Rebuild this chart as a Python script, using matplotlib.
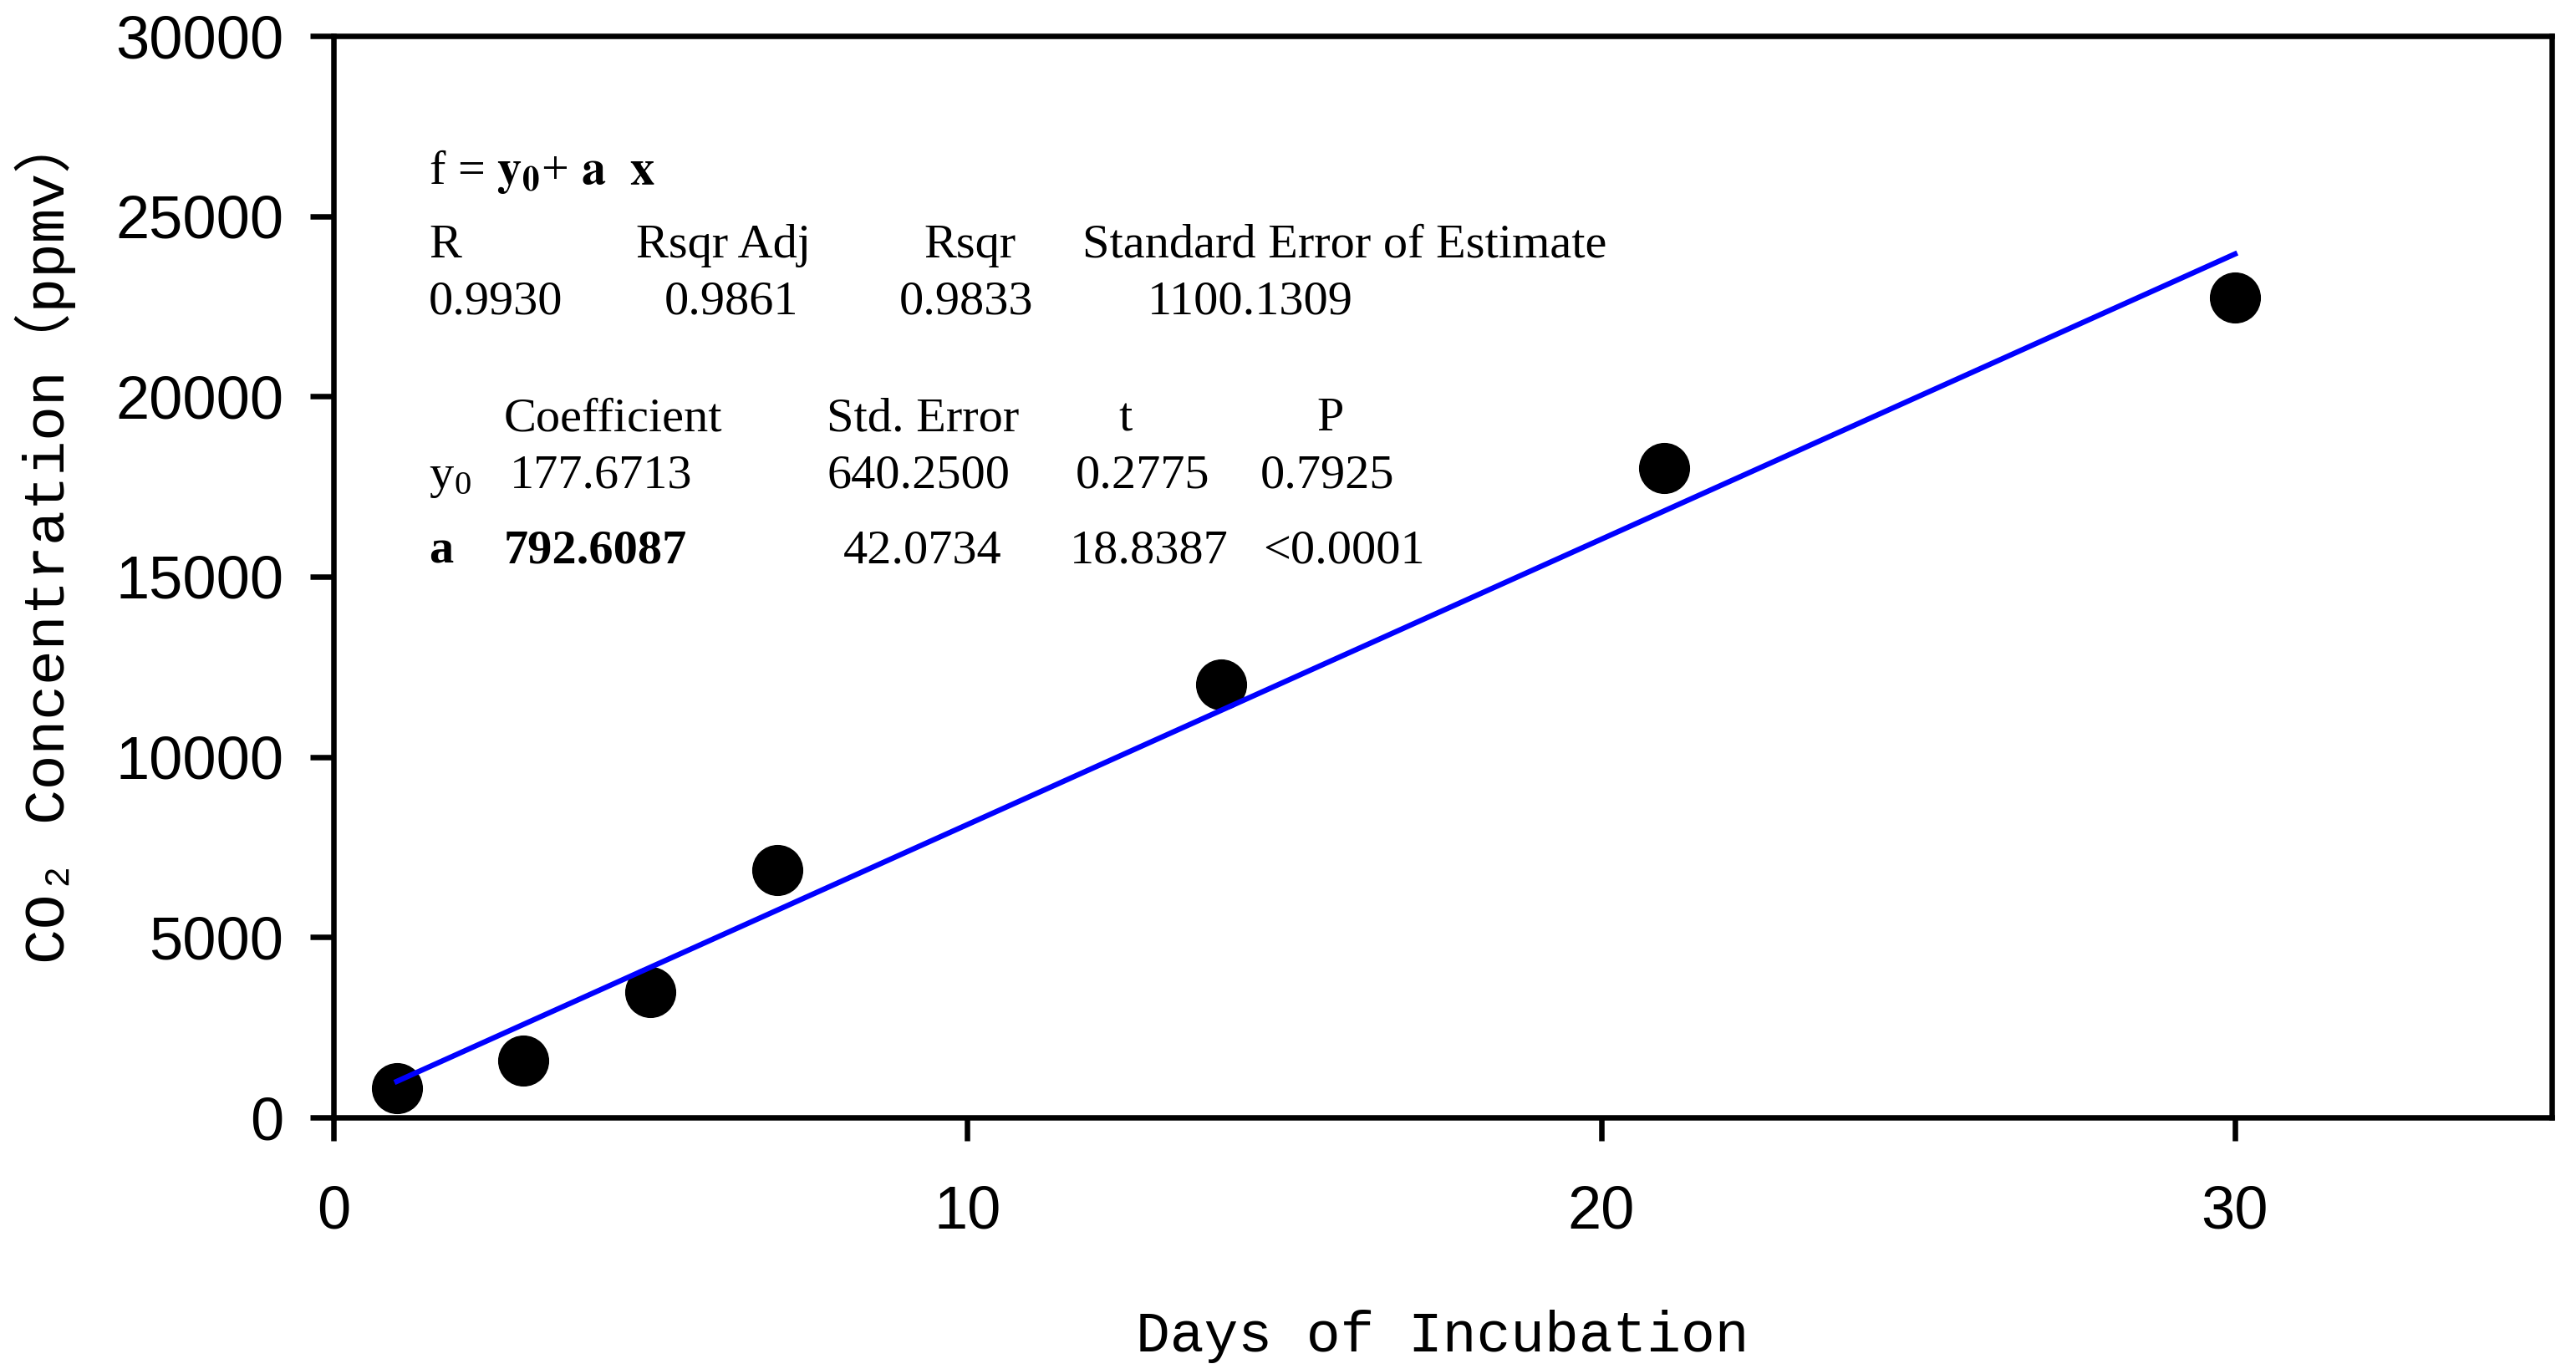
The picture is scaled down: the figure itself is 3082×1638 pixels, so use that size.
import matplotlib.pyplot as plt

plt.rcParams['font.family'] = ['Liberation Sans', 'DejaVu Sans']

# measured CO2 values
days = [1, 3, 5, 7, 14, 21, 30]
co2_ppmv = [811, 1576, 3478, 6851, 12009, 18014, 22744]

# ends of the fitted line
fit_days = [1, 30]
fit_ppmv = [1000, 23950]

xticks = [0, 10, 20, 30]
yticks = [0, 5000, 10000, 15000, 20000, 25000, 30000]

# regression report
equation = r'f = $\mathbf{y_0}$+ $\mathbf{a}$  $\mathbf{x}$'
summary_head = ['R', 'Rsqr Adj', 'Rsqr', 'Standard Error of Estimate']
summary_vals = ['0.9930', '0.9861', '0.9833', '1100.1309']
coef_head = ['Coefficient', 'Std. Error', 't', 'P']
coef_y0 = [r'y$_\mathregular{0}$', '177.6713', '640.2500', '0.2775', '0.7925']
coef_a = ['a', '792.6087', '42.0734', '18.8387', '<0.0001']

# text layout in image pixels (left edge, baseline)
col_sum_head = [513, 761, 1105, 1295]
col_sum_vals = [513, 795, 1076, 1373]
col_coef_head = [603, 989, 1338, 1575]
col_y0 = [513, 610, 989, 1287, 1508]
col_a = [513, 603, 1009, 1280, 1511]
rows = [220, 308, 376, 515, 584, 673]

fig = plt.figure(figsize=(30.82, 16.38), dpi=100)
ax = fig.add_axes([399/3082, 1 - 1337/1638, 2654/3082, 1294/1638])

ax.plot(days, co2_ppmv, 'o', color='black', markersize=43, zorder=2)
ax.plot(fit_days, fit_ppmv, '-', color='#0000ff', lw=4.6, zorder=3)

ax.set_xlim(0, 35)
ax.set_ylim(0, 30000)
ax.set_xticks(xticks)
ax.set_yticks(yticks)

for s in ax.spines.values():
    s.set_linewidth(4.7)
ax.tick_params(direction='out', length=20, width=4.7, labelsize=52)
ax.tick_params(axis='x', pad=38)
ax.tick_params(axis='y', pad=23)

mono = ['Liberation Mono', 'DejaVu Sans Mono', 'Noto Sans CJK SC']
ax.set_xlabel('Days of Incubation', family=mono, fontsize=49)
ax.xaxis.label.set_va('baseline')
ax.xaxis.set_label_coords(0.5, (1337 - 1617) / 1294)
ax.set_ylabel('CO\u2082 Concentration\uff08ppmv\uff09', family=mono, fontsize=50)
ax.yaxis.label.set_va('baseline')
ax.yaxis.set_label_coords((77 - 399) / 2654, 0.535)


def put(x, y, s, bold=False):
    ax.text((x - 399) / 2654, (1337 - y) / 1294, s, transform=ax.transAxes,
            family='Liberation Serif', fontsize=42, math_fontfamily='stix',
            fontweight='bold' if bold else 'normal', ha='left', va='baseline')


put(513, rows[0], equation)
for x, s in zip(col_sum_head, summary_head):
    put(x, rows[1], s)
for x, s in zip(col_sum_vals, summary_vals):
    put(x, rows[2], s)
for x, s in zip(col_coef_head, coef_head):
    put(x, rows[3], s)
for x, s in zip(col_y0, coef_y0):
    put(x, rows[4], s)
for i, (x, s) in enumerate(zip(col_a, coef_a)):
    put(x, rows[5], s, bold=(i < 2))

fig.savefig('out.png', dpi=100, facecolor='white')
